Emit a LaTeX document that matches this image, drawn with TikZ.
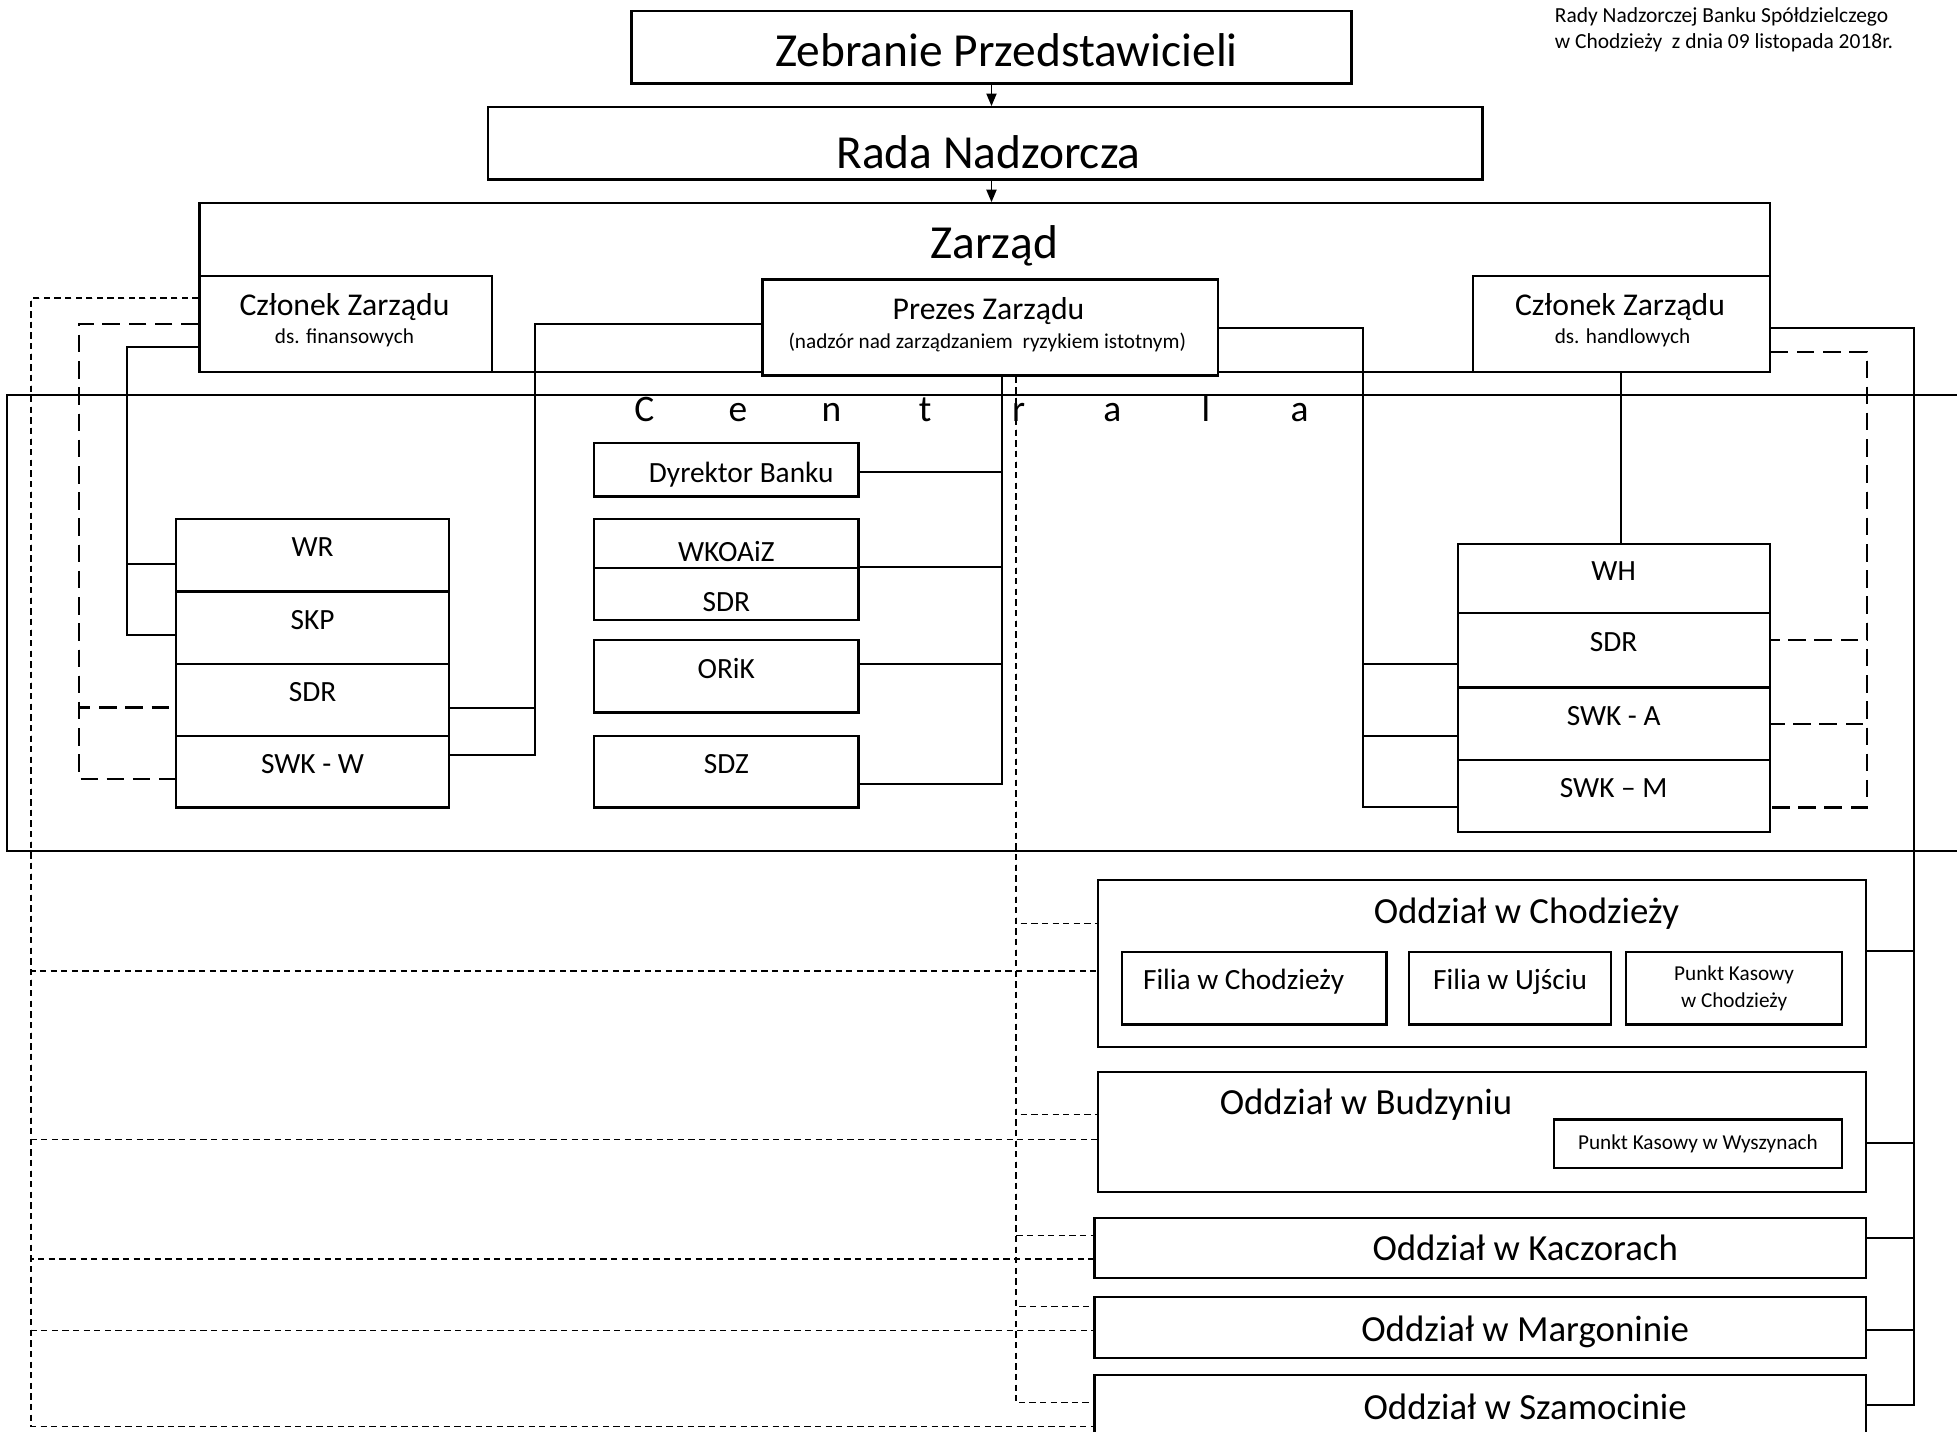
\documentclass[tikz,border=0pt]{standalone}
\usepackage{fontspec}
\setmainfont{Carlito}
\usetikzlibrary{arrows.meta}
\begin{document}
\begin{tikzpicture}[x=1pt,y=-1pt,
  bx/.style={draw,line width=1.8pt,anchor=north west,inner sep=0pt,font=\fontsize{23.5}{28}\selectfont},
  wbx/.style={bx,fill=white},
  txup/.style={text height=0.65em,text depth=0.38em},
  txup2/.style={text height=0.65em,text depth=0.42em},
  conn/.style={line width=1.6pt},
  ldash/.style={line width=1.8pt,dash pattern=on 14pt off 7pt},
  sdash/.style={line width=1.2pt,dash pattern=on 5pt off 3.5pt},
  arr/.style={line width=1.5pt,-{Triangle[length=10pt,width=8pt]}},
  bigtxt/.style={font=\fontsize{38}{44}\selectfont,anchor=base,inner sep=0pt},
  midtxt/.style={font=\fontsize{25.4}{30}\selectfont,anchor=base,inner sep=0pt},
  smltxt/.style={font=\fontsize{17}{21}\selectfont},
  ttltxt/.style={font=\fontsize{29.5}{34}\selectfont,anchor=base,inner sep=0pt},
  hdtxt/.style={font=\fontsize{17.2}{21}\selectfont,anchor=base west,inner sep=0pt},
]
\useasboundingbox (0,0) rectangle (1568,1147);

% header note
\node[hdtxt] (h1) at (1245.6,18) {Rady Nadzorczej Banku Spółdzielczego};
\node[hdtxt] (h2) at (1245.6,39) {w Chodzieży\ \ z dnia 09 listopada 2018r.};

% top levels
\node[bx,minimum width=577pt,minimum height=58pt] (zp) at (505,8) {};
\node[bigtxt] (zpt) at (806.5,53.4) {Zebranie Przedstawicieli};
\node[bx,minimum width=797pt,minimum height=58pt] (rn) at (390,85) {};
\node[bigtxt] (rnt) at (792,134.8) {Rada Nadzorcza};
\node[bx,minimum width=1258pt,minimum height=135pt] (zb) at (159,162) {};
\node[bigtxt] (zbt) at (796.5,207) {Zarząd};

\node[bx,minimum width=234pt,minimum height=77pt] (cf) at (159,220) {};
\node[midtxt] (cft) at (276,253) {Członek Zarządu};
\node[smltxt,anchor=base,inner sep=0pt] (cfs) at (276,275) {ds. finansowych};
\node[wbx,minimum width=365pt,minimum height=77pt] (pz) at (610,223) {};
\node[midtxt] (pzt) at (792,255.8) {Prezes Zarządu};
\node[smltxt,anchor=base,inner sep=0pt] (pzs) at (791,279) {(nadzór nad zarządzaniem\ \ ryzykiem istotnym)};
\node[bx,minimum width=238pt,minimum height=77pt] (ch) at (1179,220) {};
\node[midtxt] (cht) at (1298,253) {Członek Zarządu};
\node[smltxt,anchor=base,inner sep=0pt] (chs) at (1300,275) {ds. handlowych};

\draw[arr] (zp.south) -- (zp.south |- rn.north);
\draw[arr] (zp.south |- rn.south) -- (zp.south |- zb.north);

% Centrala frame
\node[draw,line width=1.3pt,anchor=north west,inner sep=0pt,minimum width=1620pt,minimum height=365pt] (cen) at (5,316) {};
\node[anchor=base west,inner sep=0pt,font=\fontsize{30}{36}\selectfont] (cent) at (478.5,338)
  {\makebox[75pt]{C}\makebox[75pt]{e}\makebox[75pt]{n}\makebox[75pt]{t}\makebox[75pt]{r}\makebox[75pt]{a}\makebox[75pt]{l}\makebox[75pt]{a}};

% left column
\node[bx,txup,minimum width=219pt,minimum height=58pt] (wr) at (140,415) {WR};
\node[bx,txup,minimum width=219pt,minimum height=58pt] (skp) at (140,473) {SKP};
\node[bx,txup,minimum width=219pt,minimum height=58pt] (sdra) at (140,531) {SDR};
\node[bx,txup,minimum width=219pt,minimum height=57pt] (swkw) at (140,589) {SWK - W};

% central column
\node[bx,minimum width=212pt,minimum height=43pt,text height=20.3pt,text depth=0pt] (dyr) at (475,354) {\hspace*{24pt}Dyrektor Banku};
\node[bx,minimum width=212pt,minimum height=39pt,text height=29.3pt,text depth=0pt] (wko) at (475,415) {WKOAiZ};
\node[bx,minimum width=212pt,minimum height=42pt,text height=27.3pt,text depth=0pt] (sdrb) at (475,454) {SDR};
\node[bx,txup,minimum width=212pt,minimum height=58pt] (orik) at (475,512) {ORiK};
\node[bx,txup,minimum width=212pt,minimum height=57pt] (sdz) at (475,589) {SDZ};

% right column
\node[bx,txup,minimum width=250pt,minimum height=55pt] (wh) at (1167,435) {WH};
\node[bx,txup,minimum width=250pt,minimum height=60pt] (sdrc) at (1167,490) {SDR};
\node[bx,txup,minimum width=250pt,minimum height=58pt] (swka) at (1167,550) {SWK - A};
\node[bx,txup,minimum width=250pt,minimum height=58pt] (swkm) at (1167,608) {SWK – M};

% branches
\node[bx,minimum width=615pt,minimum height=134pt] (och) at (879,704) {};
\node[ttltxt] (ocht) at (1223,740) {Oddział w Chodzieży};
\node[bx,txup2,minimum width=212pt,minimum height=58pt] (fch) at (898,762) {Filia w Chodzieży\hspace*{17pt}};
\node[bx,txup2,minimum width=162pt,minimum height=58pt] (fuj) at (1128,762) {Filia w Ujściu};
\node[bx,smltxt,align=center,minimum width=173pt,minimum height=58pt] (pkc) at (1302,762) {Punkt Kasowy\\w Chodzieży};

\node[bx,minimum width=615pt,minimum height=96pt] (obu) at (879,858) {};
\node[ttltxt] (obut) at (1094.5,893) {Oddział w Budzyniu};
\node[bx,smltxt,minimum width=231pt,minimum height=39pt] (pkw) at (1244,896) {Punkt Kasowy w Wyszynach};

\node[bx,minimum width=618pt,minimum height=48pt] (oka) at (876,975) {};
\node[ttltxt] (okat) at (1222,1010) {Oddział w Kaczorach};
\node[bx,minimum width=618pt,minimum height=49pt] (oma) at (876,1038) {};
\node[ttltxt] (omat) at (1222,1075) {Oddział w Margoninie};
\node[bx,minimum width=618pt,minimum height=60pt] (osz) at (876,1101) {};
\node[ttltxt] (oszt) at (1222,1137) {Oddział w Szamocinie};

% ---- connectors: Członek (finanse)
\draw[conn] ([yshift=-18.5pt]cf.west) -- ++(-57,0) |- ([yshift=-7pt]wr.west);
\draw[conn] ([yshift=-18.5pt]cf.west) -- ++(-57,0) |- ([yshift=-6pt]skp.west);
\draw[ldash] (cf.west) -- ++(-96,0) |- ([yshift=-6pt]sdra.west);
\draw[ldash] (cf.west) -- ++(-96,0) |- ([yshift=-5.5pt]swkw.west);
\foreach \nm/\dy in {och/-6,obu/-6,oka/-9,oma/-2.5,osz/-11}
  \draw[sdash] ([yshift=20.5pt]cf.west) -- ++(-134,0) |- ([yshift=\dy pt]\nm.west);

% ---- Prezes
\draw[conn] ([yshift=2.5pt]pz.west) -- ++(-181,0) |- ([yshift=-6pt]sdra.east);
\draw[conn] ([yshift=2.5pt]pz.west) -- ++(-181,0) |- ([yshift=13.5pt]swkw.east);
\foreach \nm/\dy in {sdrc/-11,swka/-10,swkm/-9}
  \draw[conn] ([yshift=-0.5pt]pz.east) -- ++(115,0) |- ([yshift=\dy pt]\nm.west);
\draw[conn] ([xshift=9.5pt]pz.south) |- ([yshift=-1.5pt]dyr.east);
\draw[conn] ([xshift=9.5pt]pz.south) |- (sdrb.north east);
\draw[conn] ([xshift=9.5pt]pz.south) |- ([yshift=10pt]orik.east);
\draw[conn] ([xshift=9.5pt]pz.south) |- ([yshift=-9.5pt]sdz.east);
\foreach \nm/\dy in {och/32,obu/14,oka/10,oma/16.5,osz/8}
  \draw[sdash] ([xshift=20.5pt]pz.south) |- ([yshift=\dy pt]\nm.west);

% ---- Członek (handel)
\draw[conn] (ch.south) -- (ch.south |- wh.north);
\foreach \nm/\dy in {sdrc/8,swka/0,swkm/-9}
  \draw[ldash] ([yshift=-22.5pt]ch.east) -- ++(77,0) |- ([yshift=\dy pt]\nm.east);
\foreach \nm/\dy in {och/10,obu/-9,oka/8,oma/-2.5,osz/6}
  \draw[conn] ([yshift=-3.5pt]ch.east) -- ++(115,0) |- ([yshift=\dy pt]\nm.east);
\end{tikzpicture}
\end{document}
